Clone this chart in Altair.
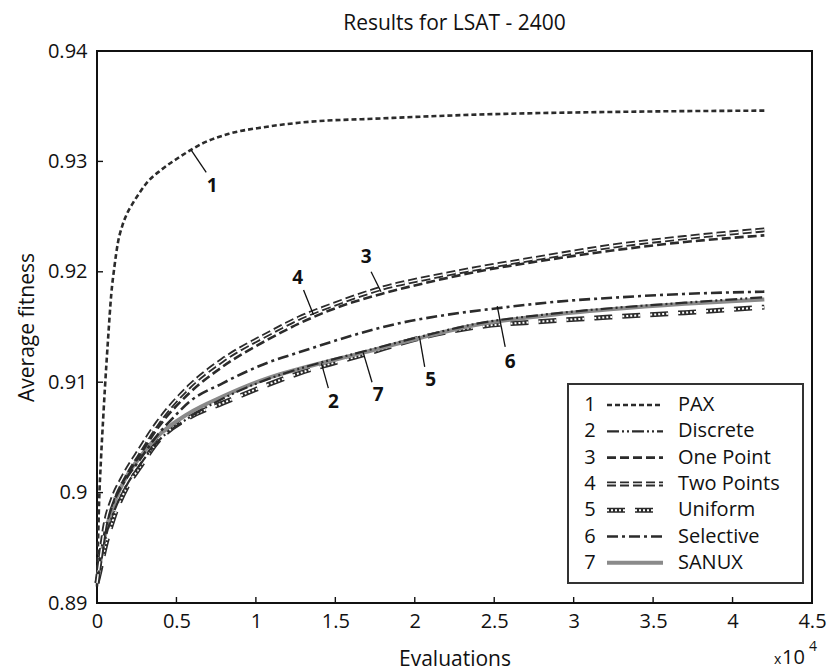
import altair as alt
import pandas as pd

# ---------------- data (x in units of 10^4 evaluations) ----------------
x_pax = [0, 0.005, 0.013, 0.025, 0.04, 0.05, 0.07, 0.09, 0.11, 0.13, 0.16, 0.19, 0.225, 0.27, 0.31, 0.41, 0.52, 0.66, 0.83, 1.05, 1.27, 1.8, 2.31, 3.35, 4.2]
y_pax = [0.8915, 0.8945, 0.899, 0.903, 0.907, 0.9095, 0.914, 0.918, 0.9205, 0.9225, 0.9242, 0.9253, 0.9262, 0.9272, 0.928, 0.9293, 0.9304, 0.9316, 0.9325, 0.9331, 0.9335, 0.9339, 0.9342, 0.9345, 0.9346]

x_grp = [0, 0.02, 0.05, 0.1, 0.16, 0.27, 0.38, 0.58, 0.79, 1.08, 1.27, 1.5, 1.79, 2.1, 2.39, 2.8, 3.23, 3.7, 4.2]
y_two = [0.8918, 0.894, 0.897, 0.8995, 0.9013, 0.9039, 0.9063, 0.9096, 0.912, 0.9144, 0.9158, 0.9171, 0.9185, 0.9195, 0.9203, 0.9213, 0.9223, 0.9231, 0.9238]
y_one = [0.8918, 0.894, 0.8968, 0.8992, 0.9009, 0.9034, 0.9058, 0.909, 0.9114, 0.9139, 0.9153, 0.9167, 0.918, 0.9191, 0.92, 0.921, 0.9219, 0.9227, 0.9233]

x_sel = [0, 0.02, 0.05, 0.1, 0.16, 0.27, 0.38, 0.48, 0.58, 0.79, 1.08, 1.27, 1.6, 1.89, 2.2, 2.52, 2.9, 3.3, 3.7, 4.2]
y_sel = [0.8918, 0.894, 0.8965, 0.899, 0.9007, 0.903, 0.9052, 0.9068, 0.9082, 0.9099, 0.9118, 0.9127, 0.9142, 0.9153, 0.9161, 0.9167, 0.9173, 0.9177, 0.918, 0.9182]

x_low = [0, 0.02, 0.05, 0.1, 0.2, 0.27, 0.375, 0.58, 0.79, 1.08, 1.27, 1.68, 2.03, 2.39, 2.8, 3.23, 3.7, 4.2]
y_sanux = [0.8918, 0.8937, 0.8962, 0.8987, 0.9018, 0.9032, 0.905, 0.9072, 0.9087, 0.9104, 0.9112, 0.9127, 0.914, 0.9152, 0.916, 0.9166, 0.9171, 0.9175]
y_disc = [0.8918, 0.8934, 0.8957, 0.898, 0.901, 0.9025, 0.9045, 0.9068, 0.9085, 0.9103, 0.9112, 0.9128, 0.9141, 0.9153, 0.9161, 0.9167, 0.9172, 0.9177]
y_unif = [0.8918, 0.893, 0.895, 0.8975, 0.9008, 0.9023, 0.9045, 0.9068, 0.9081, 0.9098, 0.9108, 0.9125, 0.914, 0.915, 0.9155, 0.9159, 0.9163, 0.9168]

x_ticks = [0, 0.5, 1, 1.5, 2, 2.5, 3, 3.5, 4, 4.5]
y_ticks = [0.89, 0.90, 0.91, 0.92, 0.93, 0.94]

# curve callouts
lab_txt = ["1", "4", "3", "2", "7", "5", "6"]
lab_x = [0.725, 1.2625, 1.694, 1.4875, 1.769, 2.1, 2.6]
lab_y = [0.9278, 0.9194, 0.9213, 0.9082, 0.9088, 0.9102, 0.9118]
ld_x1 = [0.594, 1.3625, 1.7875, 1.4125, 1.675, 2.031, 2.519]
ld_y1 = [0.9310, 0.9161, 0.9182, 0.9117, 0.9127, 0.9140, 0.9169]
ld_x2 = [0.6875, 1.30, 1.725, 1.456, 1.731, 2.0625, 2.569]
ld_y2 = [0.9290, 0.91835, 0.9200, 0.90947, 0.9100, 0.91138, 0.91319]

leg_num = ["1", "2", "3", "4", "5", "6", "7"]
leg_name = ["PAX", "Discrete", "One Point", "Two Points", "Uniform", "Selective", "SANUX"]

# ---------------- layout / style ----------------
W, H = 715, 552
FONT = "Open Sans"
INK = "#2b2b2b"
xs = alt.Scale(domain=[0, 4.5], nice=False, zero=False)
ys = alt.Scale(domain=[0.89, 0.94], nice=False, zero=False)
XAX = alt.Axis(values=x_ticks, format=".1~f", title="Evaluations", ticks=False,
               domain=False, grid=False, labelFlush=False, labelOverlap=False,
               labelPadding=8, titleY=56, titleBaseline="middle")
YAX = alt.Axis(values=y_ticks, format=".2~f", title="Average fitness", ticks=False,
               domain=False, grid=False, labelOverlap=False, labelPadding=10,
               titleX=-70, titleY=H / 2, titleBaseline="middle")


def X(field):
    return alt.X(field, scale=xs, axis=XAX)


def Y(field):
    return alt.Y(field, scale=ys, axis=YAX)


def line(xv, yv, color, width, dash=None):
    df = pd.DataFrame({"x": xv, "y": yv})
    kw = dict(color=color, strokeWidth=width, interpolate="monotone", strokeCap="butt")
    if dash:
        kw["strokeDash"] = dash
    return alt.Chart(df).mark_line(**kw).encode(x=X("x:Q"), y=Y("y:Q"))


styles = {
    "1": [dict(color=INK, width=2.6, dash=[5, 3])],
    "2": [dict(color=INK, width=2.2, dash=[12, 3, 2, 3, 2, 3])],
    "3": [dict(color=INK, width=2.6, dash=[9, 4])],
    "4": [dict(color=INK, width=5, dash=[9, 4]), dict(color="white", width=1.4, dash=[9, 4])],
    "5": [dict(color=INK, width=5, dash=[18, 10]), dict(color="white", width=2, dash=[2, 2])],
    "6": [dict(color=INK, width=2.6, dash=[11, 4, 3, 4])],
    "7": [dict(color="#8a8a8a", width=4)],
}

layers = []
layers.append(line(x_pax, y_pax, **styles["1"][0]))
for s in styles["5"]:
    layers.append(line(x_low, y_unif, **s))
for s in styles["7"]:
    layers.append(line(x_low, y_sanux, **s))
for s in styles["2"]:
    layers.append(line(x_low, y_disc, **s))
for s in styles["6"]:
    layers.append(line(x_sel, y_sel, **s))
for s in styles["3"]:
    layers.append(line(x_grp, y_one, **s))
for s in styles["4"]:
    layers.append(line(x_grp, y_two, **s))

# inward ticks
xt = pd.DataFrame({"t": x_ticks})
yt = pd.DataFrame({"t": y_ticks})
layers.append(alt.Chart(xt).mark_rule(color="#111", strokeWidth=1.4).encode(
    x=X("t:Q"), y=alt.value(H - 6), y2=alt.value(H)))
layers.append(alt.Chart(yt).mark_rule(color="#111", strokeWidth=1.4).encode(
    y=Y("t:Q"), x=alt.value(0), x2=alt.value(6)))

# callouts
lab = pd.DataFrame({"t": lab_txt, "x": lab_x, "y": lab_y,
                    "x1": ld_x1, "y1": ld_y1, "x2": ld_x2, "y2": ld_y2})
layers.append(alt.Chart(lab).mark_rule(color="#111", strokeWidth=1.3).encode(
    x=X("x1:Q"), y=Y("y1:Q"), x2="x2:Q", y2="y2:Q"))
layers.append(alt.Chart(lab).mark_text(font=FONT, fontSize=19, fontWeight="bold", color="#111",
                                       align="center", baseline="middle").encode(
    x=X("x:Q"), y=Y("y:Q"), text="t:N"))

# legend (drawn by hand: box, numbers, line samples, names)
one = alt.Data(values=[{"a": 1}])
LX = W - 244
layers.append(alt.Chart(one).mark_rect(fill="white", stroke="#333", strokeWidth=2).encode(
    x=alt.value(LX), x2=alt.value(LX + 235), y=alt.value(333), y2=alt.value(532)))
for i, num in enumerate(leg_num):
    py = 354 + i * 26.3
    layers.append(alt.Chart(one).mark_text(font=FONT, fontSize=20, color="#111", align="center",
                                           baseline="middle", text=num).encode(
        x=alt.value(LX + 22), y=alt.value(py)))
    layers.append(alt.Chart(one).mark_text(font=FONT, fontSize=20, color="#111", align="left",
                                           baseline="middle", text=leg_name[i]).encode(
        x=alt.value(LX + 110), y=alt.value(py)))
    for s in styles[num]:
        kw = dict(color=s["color"], strokeWidth=s["width"], strokeCap="butt")
        if s.get("dash"):
            kw["strokeDash"] = s["dash"]
        layers.append(alt.Chart(one).mark_rule(**kw).encode(
            x=alt.value(LX + 39), x2=alt.value(LX + 95), y=alt.value(py)))

# title and x10^4 multiplier
layers.append(alt.Chart(one).mark_text(font=FONT, fontSize=21, color="#111", align="center",
                                       baseline="middle", text="Results for LSAT - 2400").encode(
    x=alt.value(W / 2), y=alt.value(-27)))
layers.append(alt.Chart(one).mark_text(font=FONT, fontSize=14, color="#111", align="left",
                                       baseline="middle", text="x").encode(
    x=alt.value(W - 38), y=alt.value(609)))
layers.append(alt.Chart(one).mark_text(font=FONT, fontSize=20, color="#111", align="left",
                                       baseline="middle", text="10").encode(
    x=alt.value(W - 30), y=alt.value(607)))
layers.append(alt.Chart(one).mark_text(font=FONT, fontSize=14, color="#111", align="left",
                                       baseline="middle", text="4").encode(
    x=alt.value(W - 3), y=alt.value(596)))

chart = alt.layer(*layers).properties(
    width=W, height=H,
    padding={"left": 89, "top": 43, "right": 15, "bottom": 69},
    autosize=alt.AutoSizeParams(type="none"),
    background="white",
).configure_view(stroke="#111", strokeWidth=2).configure_axis(
    labelFont=FONT, labelFontSize=20, labelColor="#111",
    titleFont=FONT, titleFontSize=21, titleFontWeight="normal", titleColor="#111",
)

chart.save("out.html", embed_options={"renderer": "svg", "actions": False})
